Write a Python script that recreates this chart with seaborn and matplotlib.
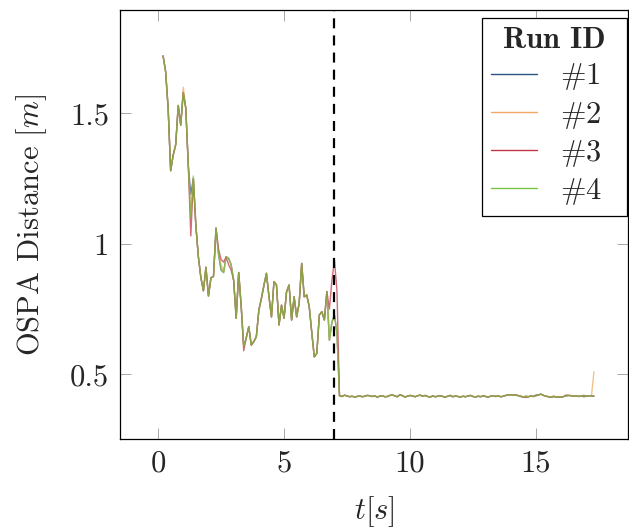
import numpy as np
import pandas as pd
import matplotlib
matplotlib.use("Agg")
import matplotlib.pyplot as plt
from matplotlib.font_manager import FontProperties
import seaborn as sns

# ---- data -----------------------------------------------------------------
run_ids = ["#1", "#2", "#3", "#4"]
run_colors = ["#2c5282", "#f2a863", "#c03448", "#78c443"]

t_start = 0.2     # first sample [s]
t_step = 0.1      # sampling period [s]
switch_time = 7.0  # dashed marker [s]

# shared OSPA trace before the switch (t = 0.2 ... 7.1)
ospa_transient = [
    1.72, 1.66, 1.52, 1.28, 1.34, 1.38, 1.53, 1.455, 1.58, 1.52,
    1.30, 1.10, 1.25, 1.07, 0.95, 0.87, 0.82, 0.91, 0.80, 0.87,
    0.875, 1.06, 0.96, 0.90, 0.89, 0.95, 0.945, 0.92, 0.86, 0.715,
    0.89, 0.76, 0.606, 0.64, 0.682, 0.612, 0.625, 0.644, 0.746, 0.79,
    0.84, 0.887, 0.80, 0.72, 0.855, 0.842, 0.689, 0.765, 0.715, 0.817,
    0.842, 0.708, 0.797, 0.72, 0.772, 0.925, 0.797, 0.804, 0.759, 0.66,
    0.567, 0.58, 0.727, 0.74, 0.708, 0.817, 0.631, 0.70, 0.727, 0.66,
]

# shared OSPA trace after the switch (t = 7.2 ... 17.3)
ospa_steady = [
    0.418, 0.415, 0.420, 0.417, 0.414, 0.416, 0.413, 0.415,
    0.417, 0.414, 0.416, 0.419, 0.418, 0.415, 0.417, 0.413, 0.416, 0.418,
    0.414, 0.415, 0.419, 0.421, 0.417, 0.414, 0.422, 0.418, 0.413, 0.416,
    0.419, 0.417, 0.414, 0.418, 0.420, 0.416, 0.419, 0.415, 0.413, 0.417,
    0.414, 0.416, 0.418, 0.415, 0.413, 0.416, 0.419, 0.414, 0.417, 0.415,
    0.413, 0.416, 0.414, 0.417, 0.419, 0.415, 0.413, 0.416, 0.414, 0.418,
    0.415, 0.413, 0.416, 0.418, 0.415, 0.417, 0.414, 0.416, 0.419, 0.421,
    0.422, 0.420, 0.421, 0.418, 0.415, 0.413, 0.416, 0.414, 0.417, 0.415,
    0.418, 0.421, 0.424, 0.419, 0.416, 0.414, 0.412, 0.415, 0.413, 0.414,
    0.412, 0.415, 0.417, 0.419, 0.418, 0.416, 0.418, 0.415, 0.417, 0.419,
    0.416, 0.418, 0.417, 0.416,
]

# samples where an individual run departs from the shared trace
run_deviations = {
    "#1": {1.3: 1.19, 15.0: 0.421, 16.9: 0.414},
    "#2": {1.0: 1.60, 2.5: 0.92, 14.4: 0.419, 15.7: 0.418, 17.3: 0.51},
    "#3": {1.3: 1.03, 2.4: 0.98, 2.5: 0.94, 2.6: 0.93, 2.8: 0.92, 2.9: 0.90,
           3.4: 0.59, 6.8: 0.75, 6.9: 0.86, 7.0: 0.938, 7.1: 0.82,
           14.6: 0.411, 16.2: 0.421},
    "#4": {1.4: 1.26},
}

# ---- long-form table ------------------------------------------------------
shared = ospa_transient + ospa_steady
times = np.round(t_start + t_step * np.arange(len(shared)), 1)
frames = []
for rid in run_ids:
    vals = list(shared)
    for t_dev, v in run_deviations[rid].items():
        vals[int(np.argmin(np.abs(times - t_dev)))] = v
    frames.append(pd.DataFrame({"t": times, "ospa": vals, "run": rid}))
df = pd.concat(frames, ignore_index=True)

# ---- style ----------------------------------------------------------------
sns.set_style("ticks")
plt.rcParams["font.family"] = ["cmr10"]
plt.rcParams["mathtext.fontset"] = "cm"
plt.rcParams["axes.formatter.use_mathtext"] = True
plt.rcParams["axes.unicode_minus"] = False
fs = 22

fig = plt.figure(figsize=(6.29, 5.29), dpi=100)
ax = fig.add_axes([0.1908, 0.1696, 0.8076, 0.8115])

sns.lineplot(data=df, x="t", y="ospa", hue="run", hue_order=run_ids,
             palette=run_colors, estimator=None, sort=False,
             linewidth=1.0, alpha=0.72, ax=ax)

ax.axvline(switch_time, color="black", linestyle=(0, (4.5, 3.2)),
           linewidth=1.6, zorder=5)

ax.set_xlim(-1.51, 18.65)
ax.set_ylim(0.251, 1.896)
ax.set_xticks([0, 5, 10, 15])
ax.set_yticks([0.5, 1, 1.5])
ax.set_xticklabels(["0", "5", "10", "15"])
ax.set_yticklabels(["0.5", "1", "1.5"])

ax.tick_params(direction="in", length=8, width=0.6, color="#999999",
               labelsize=fs, top=True, right=True, pad=8)
for sp in ax.spines.values():
    sp.set_linewidth(0.9)
    sp.set_color("black")

ax.set_xlabel(r"$t[s]$", fontsize=fs, labelpad=12)
ax.set_ylabel(r"OSPA Distance $[m]$", fontsize=fs, labelpad=15)

handles, labels = ax.get_legend_handles_labels()
for h in handles:
    h.set_alpha(1.0)
    h.set_linewidth(1.0)
leg = ax.legend(handles, [r"$\#%s$" % l[1:] for l in labels],
                title="Run ID", loc="upper right", mode="expand",
                bbox_to_anchor=(0.7126, 0.5, 0.2854, 0.4807), borderaxespad=0,
                fontsize=fs, title_fontproperties=FontProperties(family="cmb10", size=fs),
                frameon=True, fancybox=False, shadow=False, framealpha=1,
                edgecolor="black", handlelength=1.5, handletextpad=0.75,
                labelspacing=0.23, borderpad=0.3)
leg.get_frame().set_linewidth(0.9)

fig.savefig("out.png", dpi=100)
